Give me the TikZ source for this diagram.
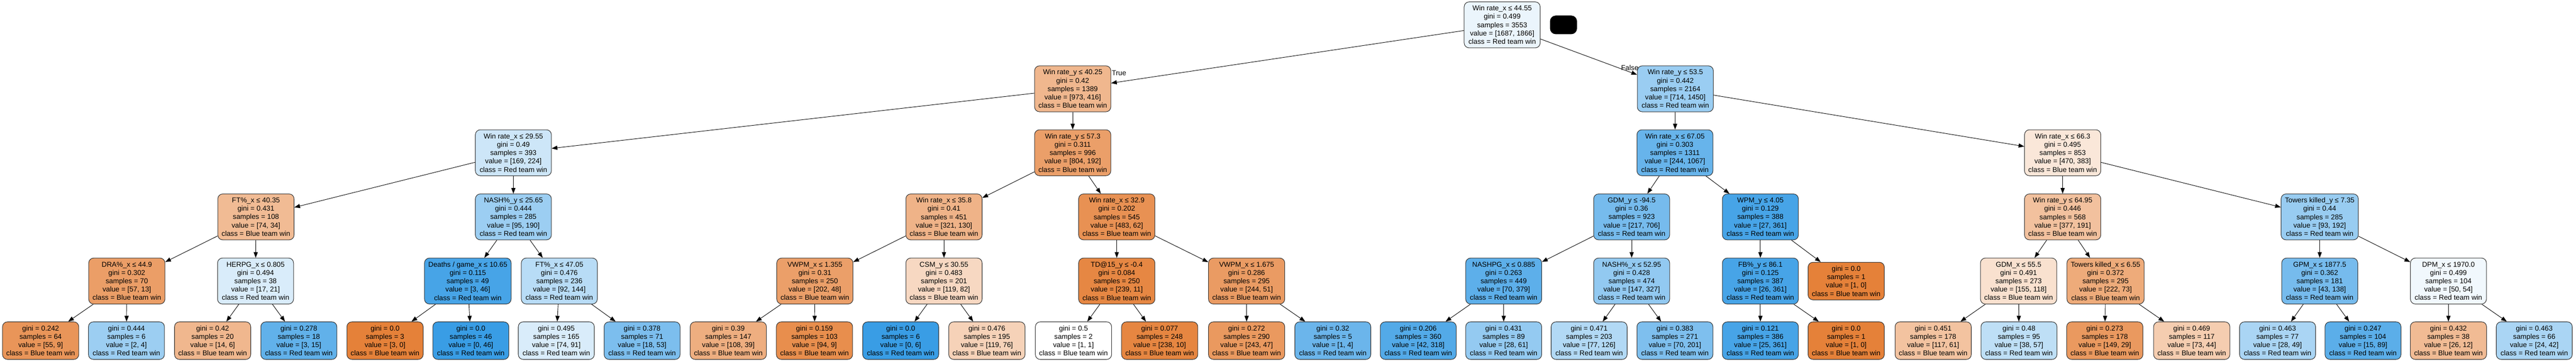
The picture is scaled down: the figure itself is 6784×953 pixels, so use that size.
\documentclass[tikz,border=0pt]{standalone}
\usepackage{fontspec}
\setmainfont{Liberation Sans}
\usetikzlibrary{arrows.meta}
\definecolor{bluewin}{RGB}{229,129,57}
\definecolor{redwin}{RGB}{57,157,229}
\begin{document}
\begin{tikzpicture}[x=0.01cm, y=-0.01cm,
    split/.style={draw=black!80, line width=0.4pt, rounded corners=0.13cm, align=center,
      font=\fontsize{5.3}{6.26}\selectfont, minimum width=2cm, minimum height=1.21cm,
      inner xsep=0.1cm, inner ysep=0.05cm},
    leaf/.style={split, minimum height=0.99cm},
    lbl/.style={font=\fontsize{5.3}{6.26}\selectfont, inner sep=0pt},
    arc/.style={-{Triangle[length=0.15cm,width=0.11cm]}, line width=0.35pt}]
      \useasboundingbox (0,0) rectangle (6784,953);
      \draw
        (3956,65.5) node[split, fill=redwin!10!white] (0) {Win rate\_x ≤ 44.55\\gini = 0.499\\samples = 3553\\value = [1687, 1866]\\class = Red team win}
        (2825,234) node[split, fill=bluewin!57!white] (1) {Win rate\_y ≤ 40.25\\gini = 0.42\\samples = 1389\\value = [973, 416]\\class = Blue team win}
        (1352,402.5) node[split, fill=redwin!25!white] (2) {Win rate\_x ≤ 29.55\\gini = 0.49\\samples = 393\\value = [169, 224]\\class = Red team win}
        (674,571.5) node[split, fill=bluewin!54!white] (3) {FT\%\_x ≤ 40.35\\gini = 0.431\\samples = 108\\value = [74, 34]\\class = Blue team win}
        (334,740.5) node[split, fill=bluewin!77!white] (4) {DRA\%\_x ≤ 44.9\\gini = 0.302\\samples = 70\\value = [57, 13]\\class = Blue team win}
        (107,897.5) node[leaf, fill=bluewin!84!white] (5) {gini = 0.242\\samples = 64\\value = [55, 9]\\class = Blue team win}
        (333,897.5) node[leaf, fill=redwin!50!white] (6) {gini = 0.444\\samples = 6\\value = [2, 4]\\class = Red team win}
        (673,740.5) node[split, fill=redwin!19!white] (7) {HERPG\_x ≤ 0.805\\gini = 0.494\\samples = 38\\value = [17, 21]\\class = Red team win}
        (560,897.5) node[leaf, fill=bluewin!57!white] (8) {gini = 0.42\\samples = 20\\value = [14, 6]\\class = Blue team win}
        (787,897.5) node[leaf, fill=redwin!80!white] (9) {gini = 0.278\\samples = 18\\value = [3, 15]\\class = Red team win}
        (1352,571.5) node[split, fill=redwin!50!white] (10) {NASH\%\_y ≤ 25.65\\gini = 0.444\\samples = 285\\value = [95, 190]\\class = Red team win}
        (1232,740.5) node[split, fill=redwin!93!white] (11) {Deaths / game\_x ≤ 10.65\\gini = 0.115\\samples = 49\\value = [3, 46]\\class = Red team win}
        (1014,897.5) node[leaf, fill=bluewin] (12) {gini = 0.0\\samples = 3\\value = [3, 0]\\class = Blue team win}
        (1240,897.5) node[leaf, fill=redwin] (13) {gini = 0.0\\samples = 46\\value = [0, 46]\\class = Red team win}
        (1473,740.5) node[split, fill=redwin!36!white] (14) {FT\%\_x ≤ 47.05\\gini = 0.476\\samples = 236\\value = [92, 144]\\class = Red team win}
        (1465,897.5) node[leaf, fill=redwin!19!white] (15) {gini = 0.495\\samples = 165\\value = [74, 91]\\class = Red team win}
        (1691,897.5) node[leaf, fill=redwin!66!white] (16) {gini = 0.378\\samples = 71\\value = [18, 53]\\class = Red team win}
        (2825,402.5) node[split, fill=bluewin!76!white] (17) {Win rate\_y ≤ 57.3\\gini = 0.311\\samples = 996\\value = [804, 192]\\class = Blue team win}
        (2486,571.5) node[split, fill=bluewin!60!white] (18) {Win rate\_x ≤ 35.8\\gini = 0.41\\samples = 451\\value = [321, 130]\\class = Blue team win}
        (2146,740.5) node[split, fill=bluewin!76!white] (19) {VWPM\_x ≤ 1.355\\gini = 0.31\\samples = 250\\value = [202, 48]\\class = Blue team win}
        (1918,897.5) node[leaf, fill=bluewin!64!white] (20) {gini = 0.39\\samples = 147\\value = [108, 39]\\class = Blue team win}
        (2145,897.5) node[leaf, fill=bluewin!90!white] (21) {gini = 0.159\\samples = 103\\value = [94, 9]\\class = Blue team win}
        (2486,740.5) node[split, fill=bluewin!31!white] (22) {CSM\_y ≤ 30.55\\gini = 0.483\\samples = 201\\value = [119, 82]\\class = Blue team win}
        (2372,897.5) node[leaf, fill=redwin] (23) {gini = 0.0\\samples = 6\\value = [0, 6]\\class = Red team win}
        (2599,897.5) node[leaf, fill=bluewin!36!white] (24) {gini = 0.476\\samples = 195\\value = [119, 76]\\class = Blue team win}
        (2941,571.5) node[split, fill=bluewin!87!white] (25) {Win rate\_x ≤ 32.9\\gini = 0.202\\samples = 545\\value = [483, 62]\\class = Blue team win}
        (2941,740.5) node[split, fill=bluewin!95!white] (26) {TD@15\_y ≤ -0.4\\gini = 0.084\\samples = 250\\value = [239, 11]\\class = Blue team win}
        (2827,897.5) node[leaf, fill=white] (27) {gini = 0.5\\samples = 2\\value = [1, 1]\\class = Blue team win}
        (3054,897.5) node[leaf, fill=bluewin!96!white] (28) {gini = 0.077\\samples = 248\\value = [238, 10]\\class = Blue team win}
        (3283,740.5) node[split, fill=bluewin!79!white] (29) {VWPM\_x ≤ 1.675\\gini = 0.286\\samples = 295\\value = [244, 51]\\class = Blue team win}
        (3283,897.5) node[leaf, fill=bluewin!81!white] (30) {gini = 0.272\\samples = 290\\value = [243, 47]\\class = Blue team win}
        (3510,897.5) node[leaf, fill=redwin!75!white] (31) {gini = 0.32\\samples = 5\\value = [1, 4]\\class = Red team win}
        (4412,234) node[split, fill=redwin!51!white] (32) {Win rate\_y ≤ 53.5\\gini = 0.442\\samples = 2164\\value = [714, 1450]\\class = Red team win}
        (4411,402.5) node[split, fill=redwin!77!white] (33) {Win rate\_x ≤ 67.05\\gini = 0.303\\samples = 1311\\value = [244, 1067]\\class = Red team win}
        (4297,571.5) node[split, fill=redwin!69!white] (34) {GDM\_y ≤ -94.5\\gini = 0.36\\samples = 923\\value = [217, 706]\\class = Red team win}
        (3960,740.5) node[split, fill=redwin!82!white] (35) {NASHPG\_x ≤ 0.885\\gini = 0.263\\samples = 449\\value = [70, 379]\\class = Red team win}
        (3735,897.5) node[leaf, fill=redwin!87!white] (36) {gini = 0.206\\samples = 360\\value = [42, 318]\\class = Red team win}
        (3960,897.5) node[leaf, fill=redwin!54!white] (37) {gini = 0.431\\samples = 89\\value = [28, 61]\\class = Red team win}
        (4297,740.5) node[split, fill=redwin!55!white] (38) {NASH\%\_x ≤ 52.95\\gini = 0.428\\samples = 474\\value = [147, 327]\\class = Red team win}
        (4185,897.5) node[leaf, fill=redwin!39!white] (39) {gini = 0.471\\samples = 203\\value = [77, 126]\\class = Red team win}
        (4411,897.5) node[leaf, fill=redwin!65!white] (40) {gini = 0.383\\samples = 271\\value = [70, 201]\\class = Red team win}
        (4636,571.5) node[split, fill=redwin!93!white] (41) {WPM\_y ≤ 4.05\\gini = 0.129\\samples = 388\\value = [27, 361]\\class = Red team win}
        (4636,740.5) node[split, fill=redwin!93!white] (42) {FB\%\_y ≤ 86.1\\gini = 0.125\\samples = 387\\value = [26, 361]\\class = Red team win}
        (4636,897.5) node[leaf, fill=redwin!93!white] (43) {gini = 0.121\\samples = 386\\value = [25, 361]\\class = Red team win}
        (4862,897.5) node[leaf, fill=bluewin] (44) {gini = 0.0\\samples = 1\\value = [1, 0]\\class = Blue team win}
        (4862,740.5) node[leaf, fill=bluewin] (45) {gini = 0.0\\samples = 1\\value = [1, 0]\\class = Blue team win}
        (5432,402.5) node[split, fill=bluewin!19!white] (46) {Win rate\_x ≤ 66.3\\gini = 0.495\\samples = 853\\value = [470, 383]\\class = Blue team win}
        (5432,571.5) node[split, fill=bluewin!49!white] (47) {Win rate\_y ≤ 64.95\\gini = 0.446\\samples = 568\\value = [377, 191]\\class = Blue team win}
        (5316,740.5) node[split, fill=bluewin!24!white] (48) {GDM\_x ≤ 55.5\\gini = 0.491\\samples = 273\\value = [155, 118]\\class = Blue team win}
        (5091,897.5) node[leaf, fill=bluewin!48!white] (49) {gini = 0.451\\samples = 178\\value = [117, 61]\\class = Blue team win}
        (5317,897.5) node[leaf, fill=redwin!33!white] (50) {gini = 0.48\\samples = 95\\value = [38, 57]\\class = Red team win}
        (5545,740.5) node[split, fill=bluewin!67!white] (51) {Towers killed\_x ≤ 6.55\\gini = 0.372\\samples = 295\\value = [222, 73]\\class = Blue team win}
        (5543,897.5) node[leaf, fill=bluewin!81!white] (52) {gini = 0.273\\samples = 178\\value = [149, 29]\\class = Blue team win}
        (5772,897.5) node[leaf, fill=bluewin!40!white] (53) {gini = 0.469\\samples = 117\\value = [73, 44]\\class = Blue team win}
        (6109,571.5) node[split, fill=redwin!52!white] (54) {Towers killed\_y ≤ 7.35\\gini = 0.44\\samples = 285\\value = [93, 192]\\class = Red team win}
        (6109,740.5) node[split, fill=redwin!69!white] (55) {GPM\_x ≤ 1877.5\\gini = 0.362\\samples = 181\\value = [43, 138]\\class = Red team win}
        (5998,897.5) node[leaf, fill=redwin!43!white] (56) {gini = 0.463\\samples = 77\\value = [28, 49]\\class = Red team win}
        (6223,897.5) node[leaf, fill=redwin!83!white] (57) {gini = 0.247\\samples = 104\\value = [15, 89]\\class = Red team win}
        (6448,740.5) node[split, fill=redwin!7!white] (58) {DPM\_x ≤ 1970.0\\gini = 0.499\\samples = 104\\value = [50, 54]\\class = Red team win}
        (6448,897.5) node[leaf, fill=bluewin!54!white] (59) {gini = 0.432\\samples = 38\\value = [26, 12]\\class = Blue team win}
        (6674,897.5) node[leaf, fill=redwin!43!white] (60) {gini = 0.463\\samples = 66\\value = [24, 42]\\class = Red team win};
      \node[fill=black, rounded corners=0.15cm, minimum width=0.71cm, minimum height=0.49cm, inner sep=0pt] (blk) at (4117.5,65.5) {};
      \node[lbl] (true) at (2947,192) {True};
      \node[lbl] (false) at (4292,178) {False};
      \begin{scope}[arc]
        \draw (0) to (1);
        \draw (1) to (2);
        \draw (2) to (3);
        \draw (3) to (4);
        \draw (4) to (5);
        \draw (4) to (6);
        \draw (3) to (7);
        \draw (7) to (8);
        \draw (7) to (9);
        \draw (2) to (10);
        \draw (10) to (11);
        \draw (11) to (12);
        \draw (11) to (13);
        \draw (10) to (14);
        \draw (14) to (15);
        \draw (14) to (16);
        \draw (1) to (17);
        \draw (17) to (18);
        \draw (18) to (19);
        \draw (19) to (20);
        \draw (19) to (21);
        \draw (18) to (22);
        \draw (22) to (23);
        \draw (22) to (24);
        \draw (17) to (25);
        \draw (25) to (26);
        \draw (26) to (27);
        \draw (26) to (28);
        \draw (25) to (29);
        \draw (29) to (30);
        \draw (29) to (31);
        \draw (0) to (32);
        \draw (32) to (33);
        \draw (33) to (34);
        \draw (34) to (35);
        \draw (35) to (36);
        \draw (35) to (37);
        \draw (34) to (38);
        \draw (38) to (39);
        \draw (38) to (40);
        \draw (33) to (41);
        \draw (41) to (42);
        \draw (42) to (43);
        \draw (42) to (44);
        \draw (41) to (45);
        \draw (32) to (46);
        \draw (46) to (47);
        \draw (47) to (48);
        \draw (48) to (49);
        \draw (48) to (50);
        \draw (47) to (51);
        \draw (51) to (52);
        \draw (51) to (53);
        \draw (46) to (54);
        \draw (54) to (55);
        \draw (55) to (56);
        \draw (55) to (57);
        \draw (54) to (58);
        \draw (58) to (59);
        \draw (58) to (60);
      \end{scope}
    \end{tikzpicture}
\end{document}
